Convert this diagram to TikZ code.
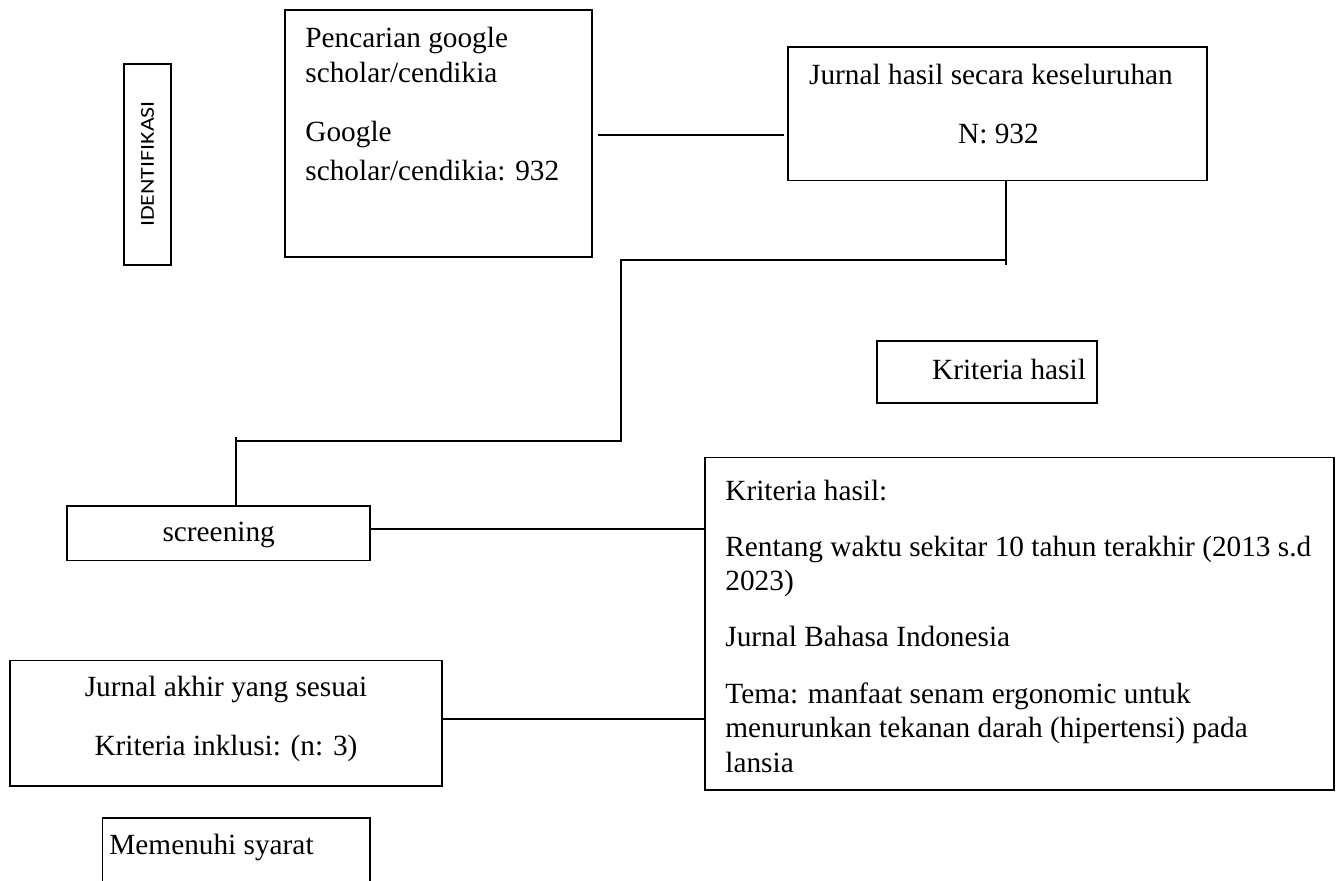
\documentclass[tikz,border=0pt]{standalone}
\usepackage{fontspec}
\setmainfont{Liberation Serif}
\newfontfamily\idfont{Carlito}
\begin{document}
\begin{tikzpicture}[x=0.5pt,y=-0.5pt,
  box/.style={draw, line width=0.8pt, inner sep=0pt},
  ghost/.style={inner sep=0pt},
  txt/.style={inner sep=0pt, font=\fontsize{14.65pt}{17pt}\selectfont},
  conn/.style={line width=0.8pt}]
\path[use as bounding box, fill=white] (0,0) rectangle (1341,881);

% boxes
\node[box, minimum width=23.5pt, minimum height=100.5pt] (ident) at (147.5,164.5) {};
\node[ghost, rotate=90] (identt) at (147.5,164) {\resizebox{63pt}{6.4pt}{\idfont IDENTIFIKASI}};

\node[box, minimum width=153.35pt, minimum height=123.5pt] (b1) at (438.35,133.5) {};
\node[box, minimum width=209.5pt, minimum height=66.6pt] (b2) at (997.5,113.9) {};
\node[box, minimum width=110pt, minimum height=31pt] (krit) at (987,372) {};
\node[box, minimum width=151.65pt, minimum height=27.35pt] (scr) at (218.35,533.35) {};
\node[box, minimum width=314.5pt, minimum height=166.25pt] (big) at (1019.5,623.75) {};
\node[box, minimum width=216pt, minimum height=62.65pt] (akhir) at (226,723.35) {};
\node[ghost, minimum width=133.3pt, minimum height=31.35pt] (mem) at (236,849.65) {};
\draw[conn] (mem.south west) -- (mem.north west) -- (mem.north east) -- (mem.south east);

% texts
\node[txt, anchor=base west] (t1a) at (305,48) {Pencarian google};
\node[txt, anchor=base west] (t1b) at (305,83) {scholar/cendikia};
\node[txt, anchor=base west] (t1c) at (305,142) {Google};
\node[txt, anchor=base west] (t1d) at (305,181) {scholar/cendikia: 932};

\node[txt, anchor=base] (t2a) at (991,85) {Jurnal hasil secara keseluruhan};
\node[txt, anchor=base] (t2b) at (998.5,143.3) {N: 932};

\node[txt, anchor=base] (t3) at (1009,380) {Kriteria hasil};

\node[txt, anchor=base] (t4) at (218.7,541.7) {screening};

\node[txt, anchor=base west] (t5a) at (725,501) {Kriteria hasil:};
\node[txt, anchor=base west] (t5b) at (725,557) {Rentang waktu sekitar 10 tahun terakhir (2013 s.d};
\node[txt, anchor=base west] (t5c) at (725,591) {2023)};
\node[txt, anchor=base west] (t5d) at (725,647) {Jurnal Bahasa Indonesia};
\node[txt, anchor=base west] (t5e) at (725,704) {Tema: manfaat senam ergonomic untuk};
\node[txt, anchor=base west] (t5f) at (725,738) {menurunkan tekanan darah (hipertensi) pada};
\node[txt, anchor=base west] (t5g) at (725,773) {lansia};

\node[txt, anchor=base] (t6a) at (226,697) {Jurnal akhir yang sesuai};
\node[txt, anchor=base] (t6b) at (226,755.5) {Kriteria inklusi: (n: 3)};

\node[txt, anchor=base west] (t7) at (109,855) {Memenuhi syarat};

% connector helper coordinates
\coordinate (c1) at (0,135);
\coordinate (j1) at (1006,260.3);
\coordinate (j1e) at (1006,265);
\coordinate (j2) at (621,260.3);
\coordinate (j3) at (621,441.3);
\coordinate (j4) at (236,441.3);
\coordinate (j4t) at (236,437);
\coordinate (c2) at (0,529.3);
\coordinate (c3) at (0,719);

% connectors
\draw[conn, shorten <=2.7pt, shorten >=1.5pt] (b1.east |- c1) -- (b2.west |- c1);
\draw[conn] (b2.south -| j1) -- (j1e);
\draw[conn] (j1) -- (j2) -- (j3) -- (j4);
\draw[conn] (j4t) -- (scr.north -| j4t);
\draw[conn] (scr.east |- c2) -- (big.west |- c2);
\draw[conn] (akhir.east |- c3) -- (big.west |- c3);
\end{tikzpicture}
\end{document}
